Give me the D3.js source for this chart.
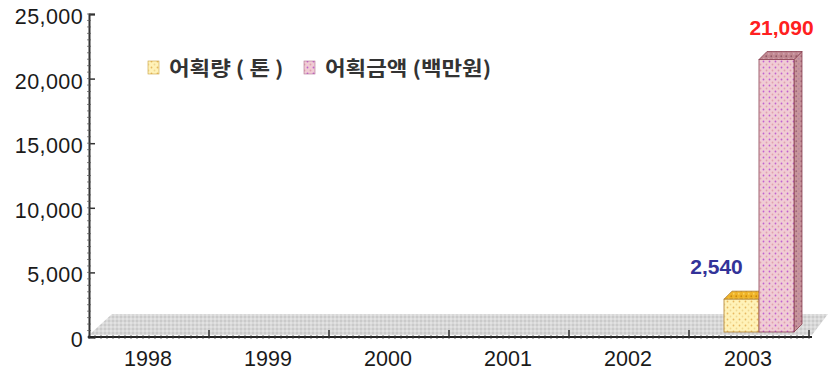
<!DOCTYPE html>
<html><head><meta charset="utf-8">
<script src="https://cdn.jsdelivr.net/npm/d3@7"></script>
<style>
html,body{margin:0;padding:0;background:#fff;}
svg{display:block;}
</style></head>
<body>
<svg id="chart" width="828" height="380"></svg>
<script>
const years = ["1998","1999","2000","2001","2002","2003"];
const seriesNames = ["어획량 ( 톤 )", "어획금액 (백만원)"];
const catchTons = [0, 0, 0, 0, 0, 2540];
const catchValue = [0, 0, 0, 0, 0, 21090];
const yTicks = [0, 5000, 10000, 15000, 20000, 25000];
const valueLabels = ["2,540", "21,090"];

const svg = d3.select("#chart");
const defs = svg.append("defs");
function dotPattern(id, bg, dot1, dot2, size) {
  const p = defs.append("pattern").attr("id", id).attr("patternUnits", "userSpaceOnUse")
    .attr("width", size).attr("height", size);
  p.append("rect").attr("width", size).attr("height", size).attr("fill", bg);
  p.append("circle").attr("cx", size/4).attr("cy", size/4).attr("r", 0.9).attr("fill", dot1);
  p.append("circle").attr("cx", size*3/4).attr("cy", size*3/4).attr("r", 0.9).attr("fill", dot2);
}
dotPattern("pYellow", "#fff2b8", "#e8b860", "#f0d890", 6);
dotPattern("pYellowTop", "#f0b428", "#c88810", "#f8d060", 5);
dotPattern("pPink", "#f0ccd4", "#c060d0", "#e0a0b0", 6);
dotPattern("pPinkSide", "#c8949c", "#a06878", "#b888a0", 5);
dotPattern("pPinkTop", "#c08890", "#905868", "#d0a0b0", 5);
dotPattern("pFloor", "#d8d8d8", "#c4c4c4", "#e8e8e8", 4);

const x = d3.scaleBand().domain(years).range([89, 809]);
const xs = d3.scaleBand().domain(seriesNames).range([35, 105]);
const y = d3.scaleLinear().domain([0, 25000]).range([337, 14]);

// floor
const fy = y(0) - 2;
svg.append("polygon")
  .attr("points", [[89, fy], [112, fy - 21], [828, fy - 21], [812, fy]].map(p => p.join(",")).join(" "))
  .attr("fill", "url(#pFloor)");

// axes
const yAxis = d3.axisRight(y).tickValues(yTicks).tickSize(6).tickFormat("");
const gy = svg.append("g").attr("transform", "translate(89,0)").call(yAxis);
gy.select(".domain").attr("stroke", "#333").attr("stroke-width", 2);
gy.selectAll(".tick line").attr("stroke", "#333").attr("stroke-width", 1.5);
svg.append("g").selectAll("line").data(d3.range(0, 25001, 500)).join("line")
  .attr("x1", 87).attr("x2", 91).attr("y1", d => y(d)).attr("y2", d => y(d))
  .attr("stroke", "#555").attr("stroke-width", 0.7);

svg.append("g").selectAll("text").data(yTicks).join("text")
  .attr("x", 83).attr("y", d => y(d) + 10)
  .attr("text-anchor", "end")
  .attr("font-family", "'Liberation Sans', Arial, sans-serif")
  .attr("font-size", 21.5).attr("fill", "#1a1a1a")
  .attr("letter-spacing", 0.4)
  .text(d => d3.format(",")(d));

const xAxisLine = svg.append("g");
xAxisLine.append("line").attr("x1", 88).attr("x2", 812).attr("y1", y(0)).attr("y2", y(0))
  .attr("stroke", "#222").attr("stroke-width", 2.2);
xAxisLine.selectAll("line.minor").data(d3.range(89, 812, 6)).join("line").attr("class", "minor")
  .attr("x1", d => d).attr("x2", d => d).attr("y1", y(0) - 2).attr("y2", y(0) + 2)
  .attr("stroke", "#444").attr("stroke-width", 0.8);
xAxisLine.selectAll("line.major").data(years.slice(1).concat(["end"])).join("line").attr("class", "major")
  .attr("x1", d => d === "end" ? 809 : x(d)).attr("x2", d => d === "end" ? 809 : x(d))
  .attr("y1", y(0)).attr("y2", y(0) - 7)
  .attr("stroke", "#333").attr("stroke-width", 1.5);

svg.append("g").selectAll("text").data(years).join("text")
  .attr("x", d => x(d) + x.bandwidth() / 2 - 1)
  .attr("y", 366)
  .attr("text-anchor", "middle")
  .attr("font-family", "'Liberation Sans', Arial, sans-serif")
  .attr("font-size", 21.5).attr("fill", "#1a1a1a")
  .text(d => d);

// bars
const base = y(0) - 5;
const h = v => y(0) - y(v);
const dd = 8;
const styles = [
  {front: "url(#pYellow)", top: "url(#pYellowTop)", side: "url(#pYellowTop)", stroke: "#b08030", label: "#333399", ldx: -25},
  {front: "url(#pPink)", top: "url(#pPinkTop)", side: "url(#pPinkSide)", stroke: "#8a4050", label: "#ff2020", ldx: 5}
];
const seriesData = [catchTons, catchValue];
seriesData.forEach((vals, si) => {
  const st = styles[si];
  const g = svg.append("g");
  years.forEach((yr, i) => {
    const v = vals[i];
    if (!v) return;
    const x0 = x(yr) + xs(seriesNames[si]);
    const w = xs.bandwidth();
    const top = base - h(v);
    g.append("polygon")
      .attr("points", [[x0 + w, top], [x0 + w + dd, top - dd], [x0 + w + dd, base - dd], [x0 + w, base]].map(p => p.join(",")).join(" "))
      .attr("fill", st.side).attr("stroke", st.stroke).attr("stroke-width", 0.8);
    g.append("polygon")
      .attr("points", [[x0, top], [x0 + dd, top - dd], [x0 + w + dd, top - dd], [x0 + w, top]].map(p => p.join(",")).join(" "))
      .attr("fill", st.top).attr("stroke", st.stroke).attr("stroke-width", 0.8);
    g.append("rect").attr("x", x0).attr("y", top).attr("width", w).attr("height", h(v))
      .attr("fill", st.front).attr("stroke", st.stroke).attr("stroke-width", 0.8);
    g.append("text")
      .attr("x", x0 + w / 2 + st.ldx).attr("y", top - 25)
      .attr("text-anchor", "middle")
      .attr("font-family", "'Liberation Sans', Arial, sans-serif")
      .attr("font-weight", "bold").attr("font-size", 21)
      .attr("fill", st.label)
      .text(valueLabels[si]);
  });
});

// legend
const legendX = [148, 304];
const lg = svg.append("g");
seriesNames.forEach((name, i) => {
  lg.append("rect").attr("x", legendX[i]).attr("y", 61).attr("width", 11).attr("height", 13)
    .attr("fill", i === 0 ? "url(#pYellow)" : "url(#pPink)")
    .attr("stroke", i === 0 ? "#c8a040" : "#b07090").attr("stroke-width", 0.6);
  lg.append("text")
    .attr("transform", `translate(${legendX[i] + 21},76) scale(1.12,1)`)
    .attr("font-family", "'Noto Sans CJK KR', sans-serif")
    .attr("font-size", 20).attr("font-weight", 700).attr("fill", "#333")
    .text(name);
});
</script>
</body></html>
